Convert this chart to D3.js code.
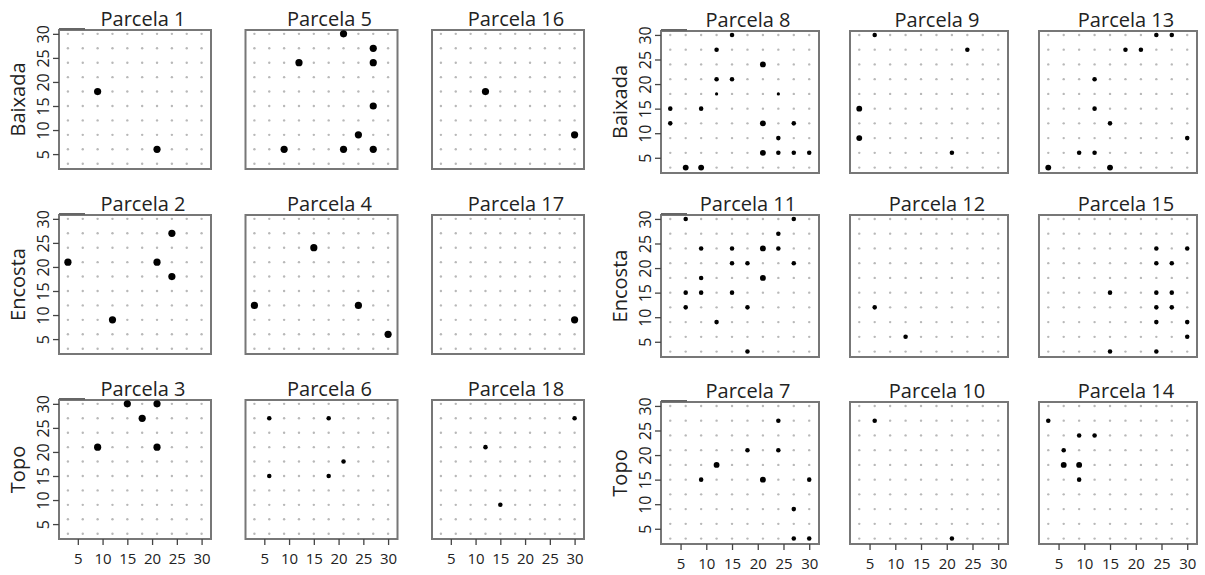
<!DOCTYPE html>
<html>
<head>
<meta charset="utf-8">
<script src="https://cdn.jsdelivr.net/npm/d3@7"></script>
<style>
  body { margin: 0; background: #fff; }
  text { font-family: "Open Sans", sans-serif; fill: #222; }
</style>
</head>
<body>
<svg id="chart"></svg>
<script>
// Row (topographic position) labels and plot numbers per panel grid
const rowLabels = ["Baixada", "Encosta", "Topo"];
const leftPlots = [1, 5, 16, 2, 4, 17, 3, 6, 18];
const rightPlots = [8, 9, 13, 11, 12, 15, 7, 10, 14];
const gridValues = [3, 6, 9, 12, 15, 18, 21, 24, 27, 30];
const tickValues = [5, 10, 15, 20, 25, 30];

// occupied cells per plot: [x, y, size]
const parcela1 = [[9, 18, 4], [21, 6, 4]];
const parcela5 = [[21, 30, 4], [27, 27, 4], [12, 24, 4], [27, 24, 4], [27, 15, 4], [24, 9, 4], [9, 6, 4], [21, 6, 4], [27, 6, 4]];
const parcela16 = [[12, 18, 4], [30, 9, 4]];
const parcela2 = [[24, 27, 4], [3, 21, 4], [21, 21, 4], [24, 18, 4], [12, 9, 4]];
const parcela4 = [[15, 24, 4], [3, 12, 4], [24, 12, 4], [30, 6, 4]];
const parcela17 = [[30, 9, 4]];
const parcela3 = [[15, 30, 4], [21, 30, 4], [18, 27, 4], [9, 21, 4], [21, 21, 4]];
const parcela6 = [[6, 27, 2], [18, 27, 2], [21, 18, 2], [6, 15, 2], [18, 15, 2]];
const parcela18 = [[30, 27, 2], [12, 21, 2], [15, 9, 2]];
const parcela8 = [[15, 30, 2], [12, 27, 2], [21, 24, 3], [12, 21, 2], [15, 21, 2], [12, 18, 1], [24, 18, 1],
  [3, 15, 2], [9, 15, 2], [3, 12, 2], [21, 12, 3], [27, 12, 2], [24, 9, 2],
  [21, 6, 3], [24, 6, 2], [27, 6, 2], [30, 6, 2], [6, 3, 3], [9, 3, 3]];
const parcela9 = [[6, 30, 2], [24, 27, 2], [3, 15, 3], [3, 9, 3], [21, 6, 2]];
const parcela13 = [[24, 30, 2], [27, 30, 2], [18, 27, 2], [21, 27, 2], [12, 21, 2], [12, 15, 2],
  [15, 12, 2], [30, 9, 2], [9, 6, 2], [12, 6, 2], [3, 3, 3], [15, 3, 3]];
const parcela11 = [[6, 30, 2], [27, 30, 2], [24, 27, 2], [9, 24, 2], [15, 24, 2], [21, 24, 3], [24, 24, 2],
  [15, 21, 2], [18, 21, 2], [27, 21, 2], [9, 18, 2], [21, 18, 3], [6, 15, 2], [9, 15, 2], [15, 15, 2],
  [6, 12, 2], [18, 12, 2], [12, 9, 2], [18, 3, 2]];
const parcela12 = [[6, 12, 2], [12, 6, 2]];
const parcela15 = [[24, 24, 2], [30, 24, 2], [24, 21, 2], [27, 21, 2], [15, 15, 2], [24, 15, 2], [27, 15, 2],
  [24, 12, 2], [27, 12, 2], [24, 9, 2], [30, 9, 2], [30, 6, 2], [15, 3, 2], [24, 3, 2]];
const parcela7 = [[24, 27, 2], [18, 21, 2], [24, 21, 2], [12, 18, 3], [9, 15, 2], [21, 15, 3], [30, 15, 2],
  [27, 9, 2], [27, 3, 2], [30, 3, 2]];
const parcela10 = [[6, 27, 2], [21, 3, 2]];
const parcela14 = [[3, 27, 2], [9, 24, 2], [12, 24, 2], [6, 21, 2], [6, 18, 3], [9, 18, 3], [9, 15, 2]];

const plotData = {
  1: parcela1, 5: parcela5, 16: parcela16, 2: parcela2, 4: parcela4, 17: parcela17,
  3: parcela3, 6: parcela6, 18: parcela18, 8: parcela8, 9: parcela9, 13: parcela13,
  11: parcela11, 12: parcela12, 15: parcela15, 7: parcela7, 10: parcela10, 14: parcela14
};

const width = 1205;
const height = 575;

const svg = d3.select("#chart")
  .attr("width", width)
  .attr("height", height);

// two facet blocks side by side
const groups = [
  { plots: leftPlots, x0: 59, w: 152, step: 186.5, tops: [30, 215, 400], h: 139 },
  { plots: rightPlots, x0: 661, w: 158, step: 189, tops: [31, 215, 402], h: 142 }
];

const rSize = d3.scaleLinear().domain([1, 4]).range([1.6, 3.6]);

groups.forEach(g => {
  const x = d3.scaleLinear().domain([1.2, 31.9]).range([0, g.w]);
  const y = d3.scaleLinear().domain([1.9, 30.8]).range([g.h, 0]);

  g.plots.forEach((p, i) => {
    const col = i % 3;
    const row = Math.floor(i / 3);
    const px = g.x0 + col * g.step;
    const py = g.tops[row];

    const panel = svg.append("g").attr("transform", `translate(${px},${py})`);

    panel.append("rect")
      .attr("width", g.w)
      .attr("height", g.h)
      .attr("fill", "#fff")
      .attr("stroke", "#777")
      .attr("stroke-width", 2);

    // background grid of sample points
    const cells = [];
    gridValues.forEach(gx => gridValues.forEach(gy => cells.push([gx, gy])));
    panel.selectAll(".cell")
      .data(cells)
      .enter().append("circle")
      .attr("class", "cell")
      .attr("cx", d => x(d[0]))
      .attr("cy", d => y(d[1]))
      .attr("r", 1.2)
      .attr("fill", "#b8b8b8");

    panel.selectAll(".tree")
      .data(plotData[p])
      .enter().append("circle")
      .attr("class", "tree")
      .attr("cx", d => x(d[0]))
      .attr("cy", d => y(d[1]))
      .attr("r", d => rSize(d[2]))
      .attr("fill", "#000");

    // panel title
    svg.append("text")
      .attr("x", px + g.w / 2 + 8)
      .attr("y", py - 4)
      .attr("text-anchor", "middle")
      .attr("font-size", 20)
      .text("Parcela " + p);

    if (col === 0) {
      // left strip remnant
      panel.append("line")
        .attr("x1", 0).attr("x2", 26)
        .attr("y1", -1).attr("y2", -1)
        .attr("stroke", "#666")
        .attr("stroke-width", 2);

      const yAxis = d3.axisLeft(y).tickValues(tickValues).tickSize(6).tickSizeOuter(0);
      const ya = panel.append("g").call(yAxis);
      ya.select(".domain").remove();
      ya.selectAll("line").attr("stroke", "#444").attr("stroke-width", 1.3);
      ya.selectAll("text")
        .attr("font-size", 16)
        .attr("fill", "#222")
        .attr("transform", "rotate(-90)")
        .attr("x", 0)
        .attr("y", -10)
        .attr("dy", 0)
        .attr("text-anchor", "middle");

      svg.append("text")
        .attr("transform", `translate(${px - 34},${py + g.h / 2}) rotate(-90)`)
        .attr("text-anchor", "middle")
        .attr("font-size", 20)
        .text(rowLabels[row]);
    }

    if (row === 2) {
      const xAxis = d3.axisBottom(x).tickValues(tickValues).tickSize(6).tickSizeOuter(0);
      const xa = panel.append("g")
        .attr("transform", `translate(0,${g.h})`)
        .call(xAxis);
      xa.select(".domain").remove();
      xa.selectAll("line").attr("stroke", "#444").attr("stroke-width", 1.3);
      xa.selectAll("text")
        .attr("font-size", 15)
        .attr("fill", "#222")
        .attr("y", 14)
        .attr("dy", "0.71em");
    }
  });
});
</script>
</body>
</html>
